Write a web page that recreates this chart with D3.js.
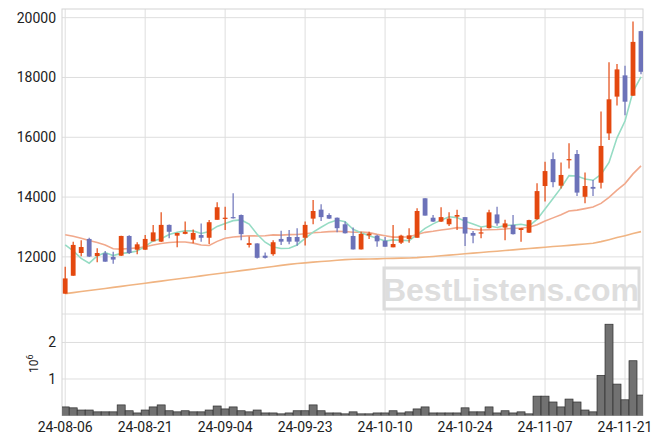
<!DOCTYPE html>
<html><head><meta charset="utf-8">
<script src="https://cdn.jsdelivr.net/npm/d3@7"></script>
<style>html,body{margin:0;padding:0;background:#fff;}svg{display:block;}</style>
</head><body>
<script>
const dates = ["24-08-06","24-08-07","24-08-08","24-08-09","24-08-12","24-08-13","24-08-14","24-08-16","24-08-19","24-08-20",
"24-08-21","24-08-22","24-08-23","24-08-26","24-08-27","24-08-28","24-08-29","24-08-30","24-09-02","24-09-03",
"24-09-04","24-09-05","24-09-06","24-09-09","24-09-10","24-09-11","24-09-12","24-09-13","24-09-19","24-09-20",
"24-09-23","24-09-24","24-09-25","24-09-26","24-09-27","24-09-30","24-10-02","24-10-04","24-10-07","24-10-08",
"24-10-10","24-10-11","24-10-14","24-10-15","24-10-16","24-10-17","24-10-18","24-10-21","24-10-22","24-10-23",
"24-10-24","24-10-25","24-10-28","24-10-29","24-10-30","24-10-31","24-11-01","24-11-04","24-11-05","24-11-06",
"24-11-07","24-11-08","24-11-11","24-11-12","24-11-13","24-11-14","24-11-15","24-11-18","24-11-19","24-11-20",
"24-11-21","24-11-22","24-11-25"];
const open  = [10770,11370,12130,12600,12030,12120,12000,12040,12700,12240,12240,12520,12510,13070,12710,12770,12575,12730,12640,13240,
13290,13330,13400,12400,12450,12040,12090,12600,12665,12665,12640,13280,13580,13400,13310,13090,12700,12250,12720,12710,
12540,12320,12475,12600,12640,13960,13310,13180,13090,13345,13330,12800,12790,12960,13420,12980,13070,12900,12810,13260,
14370,15270,14380,15250,15440,14010,14340,14480,16130,17360,18070,17390,19550];
const high  = [11670,12510,12560,12640,12290,12200,12170,12710,12720,12490,12730,13070,13490,13080,12810,13180,12920,13120,13230,13830,
13680,14130,13420,12680,12460,12150,12560,12870,12900,12960,13180,13900,13760,13460,13320,13180,12980,12840,12840,12740,
12665,13070,12740,12960,13625,13960,13400,13660,13490,13580,13335,12866,12980,13580,13680,13240,13400,12970,13240,14460,
15180,15490,15160,15800,15575,14820,14570,16860,18510,18450,18390,19870,19560];
const low   = [10770,11370,12020,12000,11820,11840,11770,12030,12100,12090,12240,12520,12500,12620,12320,12760,12460,12510,12430,13240,
12900,13280,12560,12310,11950,11950,12040,12400,12420,12370,12380,13090,13200,13270,12820,12780,12250,12250,12600,12340,
12340,12320,12430,12475,12640,13380,13170,13170,13030,12900,12365,12455,12620,12950,13040,12555,12750,12510,12800,13250,
13850,14330,14290,14960,14040,13790,14040,14290,15910,17060,16735,17390,18110];
const close = [11280,12400,12330,12010,12130,11840,11910,12700,12130,12420,12600,12820,13070,12840,12800,12840,12800,12640,13160,13660,
13310,13290,12760,12460,11970,11970,12490,12510,12510,12510,13070,13535,13330,13280,12960,12790,12250,12770,12780,12520,
12340,12430,12710,12720,13535,13380,13180,13330,13280,13400,12780,12710,12820,13490,13120,13120,12760,12960,13230,14200,
14870,14500,14740,15270,14150,14370,14280,15710,17270,18270,17190,19190,18190];
// volume, in units of 10^6
const volume = [0.235,0.21,0.15,0.15,0.10,0.10,0.10,0.29,0.13,0.07,0.15,0.235,0.29,0.13,0.10,0.13,0.10,0.10,0.15,0.26,
0.18,0.235,0.13,0.10,0.15,0.07,0.07,0.045,0.07,0.13,0.13,0.29,0.13,0.07,0.07,0.045,0.10,0.045,0.045,0.07,
0.07,0.13,0.07,0.10,0.18,0.235,0.07,0.07,0.07,0.07,0.21,0.10,0.10,0.235,0.07,0.13,0.07,0.10,0.045,0.53,
0.53,0.37,0.235,0.45,0.37,0.15,0.10,1.10,2.5,0.86,0.43,1.5,0.56];
const ma5Start  = [12400,12200,11950,11790];
const ma20Start = [12740,12690,12620,12550,12480,12400,12270,12260,12280,12300,12340,12400,12450,12480,12500,12500,12460,12400,12380];
const ma60 = [10770,10805,10840,10875,10910,10945,10980,11015,11050,11085,11120,11155,11190,11225,11260,
11295,11330,11365,11400,11435,11470,11505,11540,11575,11610,11645,11680,11715,11750,11780,
11800,11825,11845,11865,11890,11910,11920,11925,11930,11935,11945,11950,11960,11965,11975,
11995,12015,12040,12060,12080,12105,12125,12145,12170,12190,12215,12235,12260,12280,
12300,12320,12345,12365,12385,12410,12430,12455,12510,12575,12645,12710,12780,12845];
const priceTicks = [12000,14000,16000,18000,20000];
const volTicks = [1,2];
const xTickIdx = [0,10,20,30,40,50,60,70];

function movingAvg(n, start){
  return close.map((c,i)=> i < start.length ? start[i] : d3.mean(close.slice(i-n+1,i+1)));
}
const ma5 = movingAvg(5, ma5Start);
const ma20 = movingAvg(20, ma20Start);

const W=663,H=444;
const L=62,R=643,T=9,MID=314,B=415.5;
const svg = d3.select("body").append("svg").attr("width",W).attr("height",H);
const x = d3.scaleLinear().domain([-0.4,72.25]).range([L,R]);
const y = d3.scaleLinear().domain([10090,20290]).range([MID,T]);
const yv = d3.scaleLinear().domain([0,2.78]).range([B,MID]);
const gridC="#dedede";
const font="Roboto, 'DejaVu Sans', sans-serif";

svg.append("defs").append("clipPath").attr("id","clip").append("rect")
  .attr("x",L).attr("y",T).attr("width",R-L).attr("height",B-T);

// gridlines
const g = svg.append("g");
g.selectAll(".vg").data(xTickIdx).join("line")
  .attr("x1",d=>x(d)).attr("x2",d=>x(d)).attr("y1",T).attr("y2",B)
  .attr("stroke",gridC).attr("stroke-width",1);
g.selectAll(".hg").data(priceTicks).join("line")
  .attr("x1",L).attr("x2",R).attr("y1",d=>y(d)).attr("y2",d=>y(d))
  .attr("stroke",gridC).attr("stroke-width",1);
g.selectAll(".vgl").data(volTicks).join("line")
  .attr("x1",L).attr("x2",R).attr("y1",d=>yv(d)).attr("y2",d=>yv(d))
  .attr("stroke",gridC).attr("stroke-width",1);
g.append("line").attr("x1",L).attr("x2",R).attr("y1",MID).attr("y2",MID).attr("stroke",gridC);
// frame
g.append("rect").attr("x",L).attr("y",T).attr("width",R-L).attr("height",B-T)
  .attr("fill","none").attr("stroke","#d4d4d4").attr("stroke-width",1);

// watermark
const wm = svg.append("g");
wm.append("rect").attr("x",384).attr("y",268).attr("width",255).attr("height",41)
  .attr("fill","none").attr("stroke","#dcdcdc").attr("stroke-width",3);
wm.append("text").attr("x",511).attr("y",301).attr("text-anchor","middle")
  .attr("font-family","'Liberation Sans', Arial, sans-serif").attr("font-weight","bold")
  .attr("font-size",32).attr("fill","#dedede").text("BestListens.com");

const plot = svg.append("g").attr("clip-path","url(#clip)");
const idx = d3.range(close.length);

// MA lines
const line = arr => d3.line().x((d,i)=>x(i)).y(d=>y(d))(arr);
plot.append("path").attr("d",line(ma60)).attr("fill","none").attr("stroke","#f0b482").attr("stroke-width",1.6);
plot.append("path").attr("d",line(ma20)).attr("fill","none").attr("stroke","#f1a98c").attr("stroke-width",1.6);
plot.append("path").attr("d",line(ma5)).attr("fill","none").attr("stroke","#96dcc4").attr("stroke-width",1.6);

const up="#e4480f", down="#6c72b9";
const col = i => close[i] >= open[i] ? up : down;
// wicks
plot.selectAll(".wick").data(idx).join("line")
  .attr("x1",i=>x(i)).attr("x2",i=>x(i)).attr("y1",i=>y(high[i])).attr("y2",i=>y(low[i]))
  .attr("stroke",col).attr("stroke-width",1.2);
// bodies
const bw = 4.8;
plot.selectAll(".body").data(idx).join("rect")
  .attr("x",i=>x(i)-bw/2).attr("width",bw)
  .attr("y",i=>y(Math.max(open[i],close[i])))
  .attr("height",i=>Math.max(1.2, Math.abs(y(open[i])-y(close[i]))))
  .attr("fill",col);

// volume bars
const step = x(1)-x(0);
plot.selectAll(".vol").data(idx).join("rect")
  .attr("x",i=>x(i)-step/2).attr("width",step)
  .attr("y",i=>yv(volume[i])).attr("height",i=>yv(0)-yv(volume[i]))
  .attr("fill","#717171").attr("stroke","#2e2e2e").attr("stroke-width",0.7);

// axis labels
const lab = svg.append("g").attr("font-family",font).attr("fill","#222");
lab.selectAll(".py").data(priceTicks).join("text")
  .attr("x",56).attr("y",d=>y(d)+5).attr("text-anchor","end").attr("font-size",14).text(d=>d);
lab.selectAll(".vy").data(volTicks).join("text")
  .attr("x",56).attr("y",d=>yv(d)+5).attr("text-anchor","end").attr("font-size",14).text(d=>d);
lab.selectAll(".xl").data(xTickIdx).join("text")
  .attr("x",d=>x(d)).attr("y",432).attr("text-anchor","middle").attr("font-size",14).text(d=>dates[d]);
const ex = lab.append("text").attr("transform","translate(38,373) rotate(-90)").attr("font-size",12);
ex.append("tspan").text("10");
ex.append("tspan").attr("dy",-5).attr("font-size",9).text("6");
</script>
</body></html>
